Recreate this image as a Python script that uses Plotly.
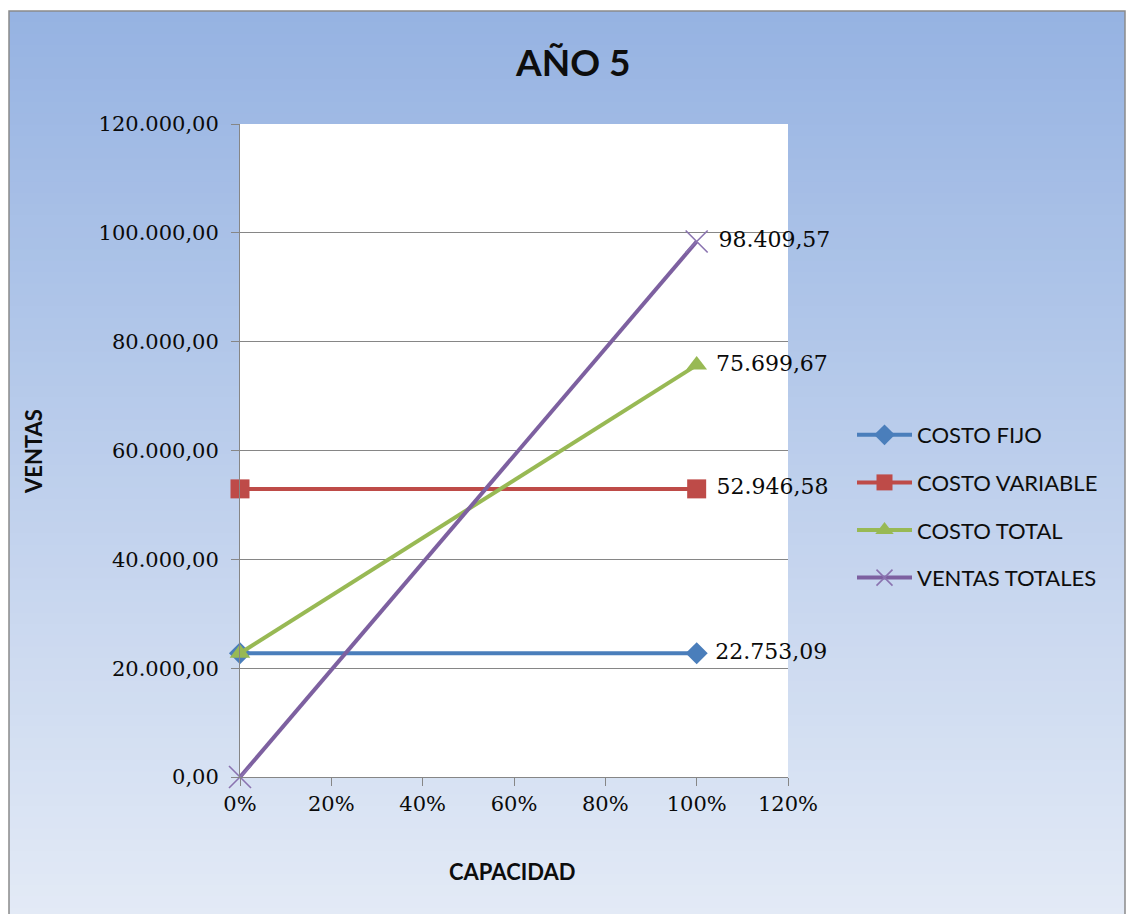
import plotly.graph_objects as go

# ---- data ----
capacidad = [0.0, 1.0]
series_names = ["COSTO FIJO", "COSTO VARIABLE", "COSTO TOTAL", "VENTAS TOTALES"]
costo_fijo = [22753.09, 22753.09]
costo_variable = [52946.58, 52946.58]
costo_total = [22753.09, 75699.67]
ventas_totales = [0.0, 98409.57]
y_ticks = [0, 20000, 40000, 60000, 80000, 100000, 120000]
x_ticks = [0.0, 0.2, 0.4, 0.6, 0.8, 1.0, 1.2]

# ---- canvas geometry (pixels) ----
W, H = 1131, 914
ML, MR, MT, MB = 240, 343, 124, 137
PW, PH = W - ML - MR, H - MT - MB


def px(x):
    return (x - ML) / PW


def py(y):
    return (H - MB - y) / PH


def es_num(v):
    s = f"{v:,.2f}"
    return s.replace(",", "X").replace(".", ",").replace("X", ".")


styles = [
    dict(color="#4a7ebb", symbol="diamond", size=17, mline=None),
    dict(color="#be4b48", symbol="square", size=19, mline=None),
    dict(color="#98b954", symbol="triangle-up", size=18, mline=None),
    dict(color="#7d60a0", symbol="x-thin", size=22, mline=1.6),
]
values = [costo_fijo, costo_variable, costo_total, ventas_totales]

fig = go.Figure()
for i, (name, vals, st) in enumerate(zip(series_names, values, styles)):
    marker = dict(symbol=st["symbol"], size=st["size"], color=st["color"])
    if st["mline"]:
        marker["line"] = dict(color="#8a73b0", width=st["mline"])
    labels = [""] * (len(vals) - 1) + ["&nbsp;" + es_num(vals[-1])]
    fig.add_trace(go.Scatter(
        x=capacidad, y=vals, name=name, mode="lines+markers+text",
        line=dict(color=st["color"], width=4),
        marker=marker,
        text=labels, textposition="middle right",
        textfont=dict(family="DejaVu Serif", size=22, color="#0a0a0a"),
        legendgroup=f"g{i}", cliponaxis=False,
    ))

# ---- background gradient ----
shapes = []
top_c = (0x96, 0xb3, 0xe2)
bot_c = (0xe3, 0xea, 0xf6)
y0, y1 = 11, H + 5
n = 80
step = (y1 - y0) / n
for k in range(n):
    t = k / (n - 1)
    c = tuple(round(a + (b - a) * t) for a, b in zip(top_c, bot_c))
    shapes.append(dict(
        type="rect", xref="paper", yref="paper", layer="below",
        x0=px(9), x1=px(1125), y0=py(y0 + k * step), y1=py(y0 + (k + 1) * step + 1),
        fillcolor="rgb(%d,%d,%d)" % c, line=dict(width=0),
    ))
# white plotting area
shapes.append(dict(
    type="rect", xref="x domain", yref="y domain", layer="below",
    x0=0, x1=1, y0=0, y1=1, fillcolor="white", line=dict(width=0),
))
# chart frame
shapes.append(dict(
    type="rect", xref="paper", yref="paper", layer="above",
    x0=px(9), x1=px(1125), y0=py(11), y1=py(H + 10),
    fillcolor="rgba(0,0,0,0)", line=dict(color="#8a8a8a", width=1.5),
))

annotations = [
    dict(text="<b>AÑO 5</b>", xref="paper", yref="paper", x=px(573), y=py(62),
         showarrow=False, xanchor="center", yanchor="middle",
         font=dict(family="Lato", size=37, color="#0d0d0d")),
    dict(text="<b>VENTAS</b>", xref="paper", yref="paper", x=px(33), y=py(452),
         showarrow=False, textangle=-90, xanchor="center", yanchor="middle",
         font=dict(family="Lato", size=22, color="#0d0d0d")),
    dict(text="<b>CAPACIDAD</b>", xref="paper", yref="paper", x=px(512), y=py(871),
         showarrow=False, xanchor="center", yanchor="middle",
         font=dict(family="Lato", size=22, color="#0d0d0d")),
]

fig.update_layout(
    width=W, height=H,
    margin=dict(l=ML, r=MR, t=MT, b=MB, pad=0),
    paper_bgcolor="white", plot_bgcolor="rgba(0,0,0,0)",
    separators=",.",
    shapes=shapes, annotations=annotations,
    showlegend=True,
    legend=dict(
        x=px(852), y=py(414), xanchor="left", yanchor="top",
        bgcolor="rgba(0,0,0,0)", borderwidth=0,
        font=dict(family="Lato", size=22, color="#0d0d0d"),
        itemwidth=55, traceorder="grouped", tracegroupgap=16,
    ),
    xaxis=dict(
        range=[0, 1.2], tickvals=x_ticks, tickformat=".0%",
        showgrid=False, zeroline=False,
        showline=True, linecolor="#868686", linewidth=1,
        ticks="outside", ticklen=8, tickcolor="#868686",
        tickfont=dict(family="DejaVu Serif", size=21, color="#0a0a0a"),
        ticklabelstandoff=0,
    ),
    yaxis=dict(
        range=[0, 120000], tickvals=y_ticks, tickformat=",.2f",
        showgrid=True, gridcolor="#868686", gridwidth=1, zeroline=False,
        showline=True, linecolor="#868686", linewidth=1,
        ticks="outside", ticklen=8, tickcolor="#868686",
        tickfont=dict(family="DejaVu Serif", size=21, color="#0a0a0a"),
        ticklabelstandoff=8,
    ),
)

fig.write_html("out.html")
